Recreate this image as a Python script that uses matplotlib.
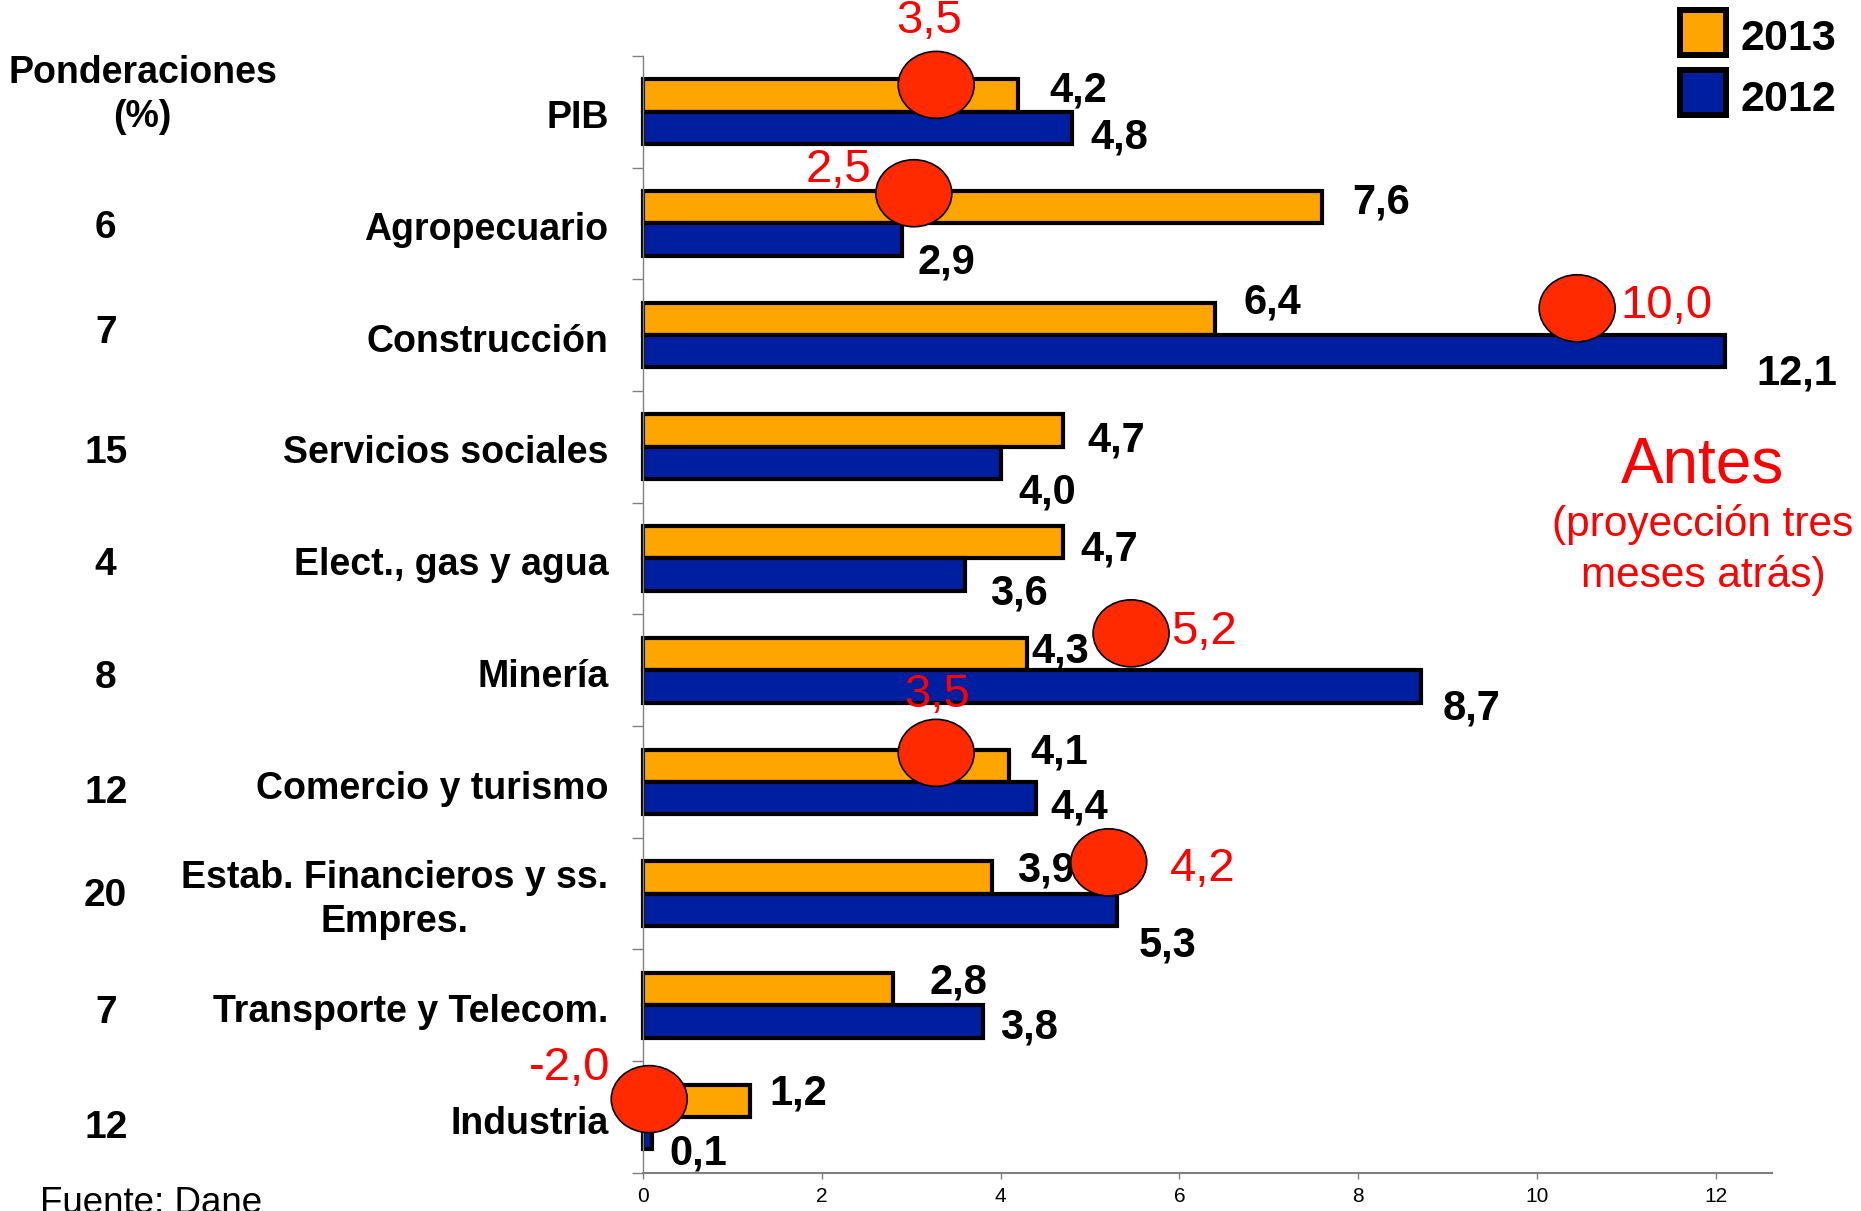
import matplotlib
matplotlib.use('Agg')
import matplotlib.pyplot as plt
from matplotlib.patches import Ellipse, Rectangle
from matplotlib.transforms import blended_transform_factory
import numpy as np

plt.rcParams['font.family'] = ['Liberation Sans', 'DejaVu Sans']

# ---------------- data ----------------
categories = ['PIB', 'Agropecuario', 'Construcción', 'Servicios sociales',
              'Elect., gas y agua', 'Minería', 'Comercio y turismo',
              'Estab. Financieros y ss.\nEmpres.', 'Transporte y Telecom.',
              'Industria']
ponderaciones = ['', '6', '7', '15', '4', '8', '12', '20', '7', '12']
values_2013 = [4.2, 7.6, 6.4, 4.7, 4.7, 4.3, 4.1, 3.9, 2.8, 1.2]
values_2012 = [4.8, 2.9, 12.1, 4.0, 3.6, 8.7, 4.4, 5.3, 3.8, 0.1]
# previous projection ("Antes"), None where not shown
antes = [3.5, 2.5, 10.0, None, None, 5.2, 3.5, 4.2, None, -2.0]
xticks = [0, 2, 4, 6, 8, 10, 12]

# ---------------- layout (hand-placed annotations in the original) ----------------
marker_x = [3.28, 3.03, 10.45, None, None, 5.46, 3.28, 5.21, None, 0.07]
marker_dy = [-0.24, -0.27, -0.24, None, None, -0.33, -0.26, -0.28, None, -0.16]
label_dx = [-0.08, -0.84, 1.0, None, None, 0.81, 0.01, 1.05, None, -0.89]
label_dy = [-0.57, -0.21, -0.02, None, None, -0.01, -0.52, 0.06, None, -0.28]
lab13_dx = [0.35, 0.33, 0.32, 0.27, 0.19, 0.05, 0.23, 0.28, 0.40, 0.21]
lab13_dy = [-0.23, -0.23, -0.33, -0.10, -0.12, -0.21, -0.30, -0.25, -0.24, -0.25]
lab12_dx = [0.21, 0.17, 0.35, 0.20, 0.28, 0.25, 0.16, 0.24, 0.19, 0.19]
lab12_dy = [0.19, 0.31, 0.30, 0.37, 0.27, 0.30, 0.19, 0.42, 0.16, 0.29]
pond_dy = [0, 0.01, -0.05, 0.02, 0.02, 0.03, 0.06, -0.01, 0.03, 0.06]

ORANGE = '#FFA500'
BLUE = '#001EA0'
RED_FILL = '#FF2A00'
RED = '#FF0000'
GRAY = '#808080'

def fmt(v):
    return f"{v:.1f}".replace('.', ',')

fig = plt.figure(figsize=(18.61, 12.11), dpi=100)
ax = fig.add_axes([0.3455, 0.0315, 0.6067, 0.9224])

y = np.arange(len(categories))
h = 0.29
ax.barh(y - h / 2, values_2013, height=h, color=ORANGE, edgecolor='black',
        linewidth=3, zorder=2, clip_on=False)
ax.barh(y + h / 2, values_2012, height=h, color=BLUE, edgecolor='black',
        linewidth=3, zorder=2, clip_on=False)

ax.set_xlim(0, 12.63)
ax.set_ylim(len(categories) - 0.5, -0.5)

for s in ['top', 'right']:
    ax.spines[s].set_visible(False)
ax.spines['left'].set_color(GRAY)
ax.spines['left'].set_linewidth(1)
ax.spines['bottom'].set_color(GRAY)
ax.spines['bottom'].set_linewidth(1.5)

ax.set_yticks(np.arange(-0.5, len(categories), 1))
ax.set_yticklabels([])
ax.tick_params(axis='y', length=8, width=1, color=GRAY, direction='out')
ax.set_xticks(xticks)
ax.set_xticklabels([str(t) for t in xticks], fontsize=15)
ax.tick_params(axis='x', length=4.5, width=1, color=GRAY, direction='out', pad=6)

# value labels
for i in range(len(categories)):
    ax.text(values_2013[i] + lab13_dx[i], y[i] + lab13_dy[i], fmt(values_2013[i]),
            ha='left', va='center_baseline', fontsize=30, fontweight='bold', zorder=3)
    ax.text(values_2012[i] + lab12_dx[i], y[i] + lab12_dy[i], fmt(values_2012[i]),
            ha='left', va='center_baseline', fontsize=30, fontweight='bold', zorder=3)

# red markers and previous projection labels
for i, v in enumerate(antes):
    if v is None:
        continue
    cx, cy = marker_x[i], y[i] + marker_dy[i]
    ax.add_patch(Ellipse((cx, cy), 0.85, 0.60, facecolor=RED_FILL,
                         edgecolor='black', linewidth=1.2, zorder=4, clip_on=False))
    ax.text(cx + label_dx[i], cy + label_dy[i], fmt(v), color=RED, fontsize=34,
            ha='center', va='center', zorder=5, clip_on=False)

# category labels & weights
trans = blended_transform_factory(fig.transFigure, ax.transData)
for i, c in enumerate(categories):
    ax.text(0.327, y[i] + 0.06, c, transform=trans, ha='right', va='center',
            multialignment='center', fontsize=27, fontweight='bold', linespacing=1.3)
    if ponderaciones[i]:
        ax.text(0.0568, y[i] + pond_dy[i], ponderaciones[i], transform=trans, ha='center',
                va='center_baseline', fontsize=28, fontweight='bold')
ax.text(0.0766, -0.15, 'Ponderaciones\n(%)', transform=trans, ha='center',
        va='center', multialignment='center', fontsize=27, fontweight='bold',
        linespacing=1.3)

# legend
for (yy, col, lab, ty) in [(0.9546, ORANGE, '2013', 0.9715), (0.9050, BLUE, '2012', 0.921)]:
    fig.patches.append(Rectangle((0.9027, yy), 0.0247, 0.0372, transform=fig.transFigure,
                                 facecolor=col, edgecolor='black', linewidth=4.3))
    fig.text(0.935, ty, lab, fontsize=31, fontweight='bold', ha='left',
             va='center_baseline')

# annotations
fig.text(0.915, 0.621, 'Antes', color=RED, fontsize=46, ha='center', va='center_baseline')
fig.text(0.915, 0.546, '(proyección tres\nmeses atrás)', color=RED, fontsize=30.5,
         ha='center', va='center', multialignment='center', linespacing=1.3)
fig.text(0.0215, -0.002, 'Fuente: Dane', fontsize=26.5, ha='left', va='baseline')

fig.savefig('out.png', dpi=100)
